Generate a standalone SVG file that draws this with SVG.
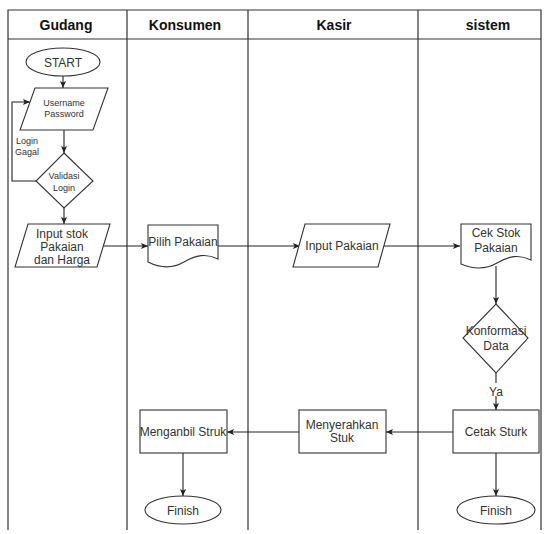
<svg xmlns="http://www.w3.org/2000/svg" width="549" height="534" viewBox="0 0 549 534">
<defs>
<style>
.lane{fill:none;stroke:#333;stroke-width:1.2}
.hd{font-family:"Liberation Sans",Arial,sans-serif;font-size:14px;font-weight:bold;fill:#111;text-anchor:middle}
.shp{fill:#fff;stroke:#333;stroke-width:1.1}
.t{font-family:"Liberation Sans",Arial,sans-serif;font-size:12px;fill:#333;text-anchor:middle}
.ts{font-family:"Liberation Sans",Arial,sans-serif;font-size:9px;fill:#333;text-anchor:middle}
.c{fill:none;stroke:#222;stroke-width:1.1;marker-end:url(#ah)}
</style>
<marker id="ah" markerWidth="8" markerHeight="8" refX="7" refY="4" orient="auto" markerUnits="userSpaceOnUse">
<path d="M0,1 L7,4 L0,7 L1.5,4 Z" fill="#222"/>
</marker>
</defs>
<rect width="549" height="534" fill="#fff"/>
<g id="lanes">
<path class="lane" d="M8,530 V10 H541 V530 M8,39 H541 M127,10 V530 M248,10 V530 M418,10 V530"/>
<text class="hd" x="66" y="30">Gudang</text>
<text class="hd" x="185" y="30">Konsumen</text>
<text class="hd" x="334" y="30">Kasir</text>
<text class="hd" x="488" y="30">sistem</text>
</g>
<g id="connectors">
<path class="c" d="M63,76 V88"/>
<path class="c" d="M64,130 V153"/>
<path class="c" d="M36,181 H12 V102 H30"/>
<path class="c" d="M64,208 V224"/>
<path class="c" d="M103,246 H148"/>
<path class="c" d="M218,246 H300"/>
<path class="c" d="M384,246 H460"/>
<path class="c" d="M496,266 V304"/>
<path class="c" d="M496,373 V410"/>
<path class="c" d="M453,432 H386"/>
<path class="c" d="M299,432 H227"/>
<path class="c" d="M183,453 V496"/>
<path class="c" d="M496,453 V496"/>
<rect x="488" y="383" width="16" height="13" fill="#fff"/>
<text class="t" x="496" y="396">Ya</text>
<text class="ts" x="27" y="144" font-size="9.5">Login</text>
<text class="ts" x="27" y="155" font-size="9.5">Gagal</text>
</g>
<g id="start">
<ellipse class="shp" cx="63" cy="62" rx="37" ry="14"/>
<text class="t" x="63" y="67" font-size="12.5">START</text>
</g>
<g id="username">
<path class="shp" d="M35,88 H108 L93,130 H20 Z"/>
<text class="ts" x="64" y="106">Username</text>
<text class="ts" x="64" y="117">Password</text>
</g>
<g id="validasi">
<path class="shp" d="M64,153 L93,181 L64,208 L36,181 Z"/>
<text class="ts" x="64" y="179">Validasi</text>
<text class="ts" x="64" y="191">Login</text>
</g>
<g id="inputstok">
<path class="shp" d="M28,224 H110 L97,267 H15 Z"/>
<text class="t" x="62" y="238" font-size="12.5">Input stok</text>
<text class="t" x="62" y="251" font-size="12.5">Pakaian</text>
<text class="t" x="62" y="264" font-size="12.5">dan Harga</text>
</g>
<g id="pilih">
<path class="shp" d="M148,225 H218 V259 C206,253 196,255 184,262 C172,269 160,268 148,262 Z"/>
<text class="t" x="183" y="246">Pilih Pakaian</text>
</g>
<g id="inputpakaian">
<path class="shp" d="M305,224 H390 L378,267 H293 Z"/>
<text class="t" x="342" y="250">Input Pakaian</text>
</g>
<g id="cekstok">
<path class="shp" d="M461,224 H531 V260 C519,254 509,256 497,263 C485,270 473,269 461,264 Z"/>
<text class="t" x="496" y="237">Cek Stok</text>
<text class="t" x="496" y="252">Pakaian</text>
</g>
<g id="konformasi">
<path class="shp" d="M496,304 L528,338 L496,373 L463,338 Z"/>
<text class="t" x="496" y="335">Konformasi</text>
<text class="t" x="496" y="350">Data</text>
</g>
<g id="cetak">
<rect class="shp" x="453" y="410" width="86" height="43"/>
<text class="t" x="496" y="436">Cetak Sturk</text>
</g>
<g id="menyerahkan">
<rect class="shp" x="299" y="410" width="87" height="43"/>
<text class="t" x="342" y="429">Menyerahkan</text>
<text class="t" x="342" y="442">Stuk</text>
</g>
<g id="menganbil">
<rect class="shp" x="140" y="410" width="87" height="43"/>
<text class="t" x="183" y="436">Menganbil Struk</text>
</g>
<g id="finish1">
<ellipse class="shp" cx="183" cy="510" rx="38" ry="14"/>
<text class="t" x="183" y="515">Finish</text>
</g>
<g id="finish2">
<ellipse class="shp" cx="496" cy="510" rx="39" ry="14"/>
<text class="t" x="496" y="515">Finish</text>
</g>
</svg>
